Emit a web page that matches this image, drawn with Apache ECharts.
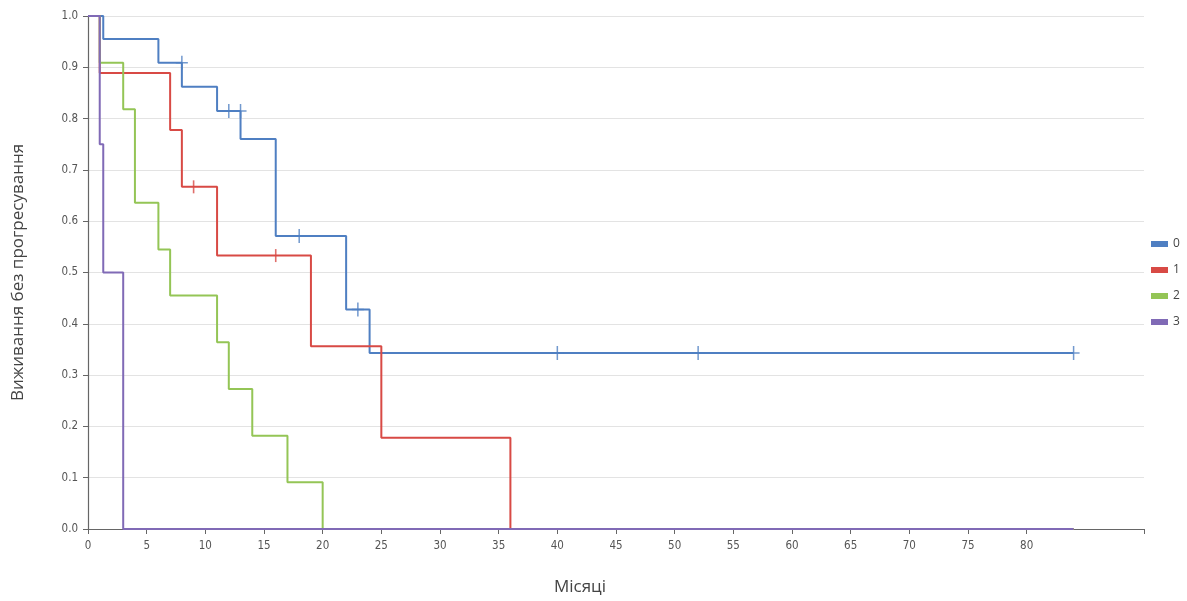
<!DOCTYPE html>
<html>
<head>
<meta charset="utf-8">
<script src="https://cdn.jsdelivr.net/npm/echarts@6/dist/echarts.min.js"></script>
<style>html,body{margin:0;padding:0;background:#fff;}#c{width:1187px;height:601px;}</style>
</head>
<body>
<div id="c"></div>
<script>
// Group names
const groups = ['0', '1', '2', '3'];
// Kaplan-Meier step points (time in months, survival)
const times0 = [0, 1.3, 6, 8, 11, 13, 16, 22, 24, 84];
const surv0  = [1, 0.955, 0.909, 0.862, 0.815, 0.760, 0.571, 0.428, 0.343, 0.343];
const times1 = [0, 1, 7, 8, 11, 19, 25, 36, 84];
const surv1  = [1, 0.889, 0.778, 0.667, 0.533, 0.356, 0.178, 0, 0];
const times2 = [0, 1, 3, 4, 6, 7, 11, 12, 14, 17, 20, 84];
const surv2  = [1, 0.909, 0.818, 0.636, 0.545, 0.455, 0.364, 0.273, 0.182, 0.091, 0, 0];
const times3 = [0, 1, 1.3, 3, 84];
const surv3  = [1, 0.75, 0.5, 0, 0];
// Censored observations
const cens0T = [8, 12, 13, 18, 23, 40, 52, 84];
const cens0S = [0.909, 0.815, 0.815, 0.571, 0.428, 0.343, 0.343, 0.343];
const cens1T = [9, 16];
const cens1S = [0.667, 0.533];
// Axis ticks
const yTicks = [0, 0.1, 0.2, 0.3, 0.4, 0.5, 0.6, 0.7, 0.8, 0.9, 1.0];
const xLabels = [0, 5, 10, 15, 20, 25, 30, 35, 40, 45, 50, 55, 60, 65, 70, 75, 80];
const xTickVals = xLabels.concat([90]);

const colors = ['#4f7fc2', '#d84a45', '#94c556', '#806ab6'];
const zip = (a, b) => a.map((v, i) => [v, b[i]]);
const plus = 'path://M5.25,0H6.75V6.25H12V7.75H6.75V14H5.25V7.75H0V6.25H5.25Z';

const lineData = [zip(times0, surv0), zip(times1, surv1), zip(times2, surv2), zip(times3, surv3)];
const series = lineData.map((d, i) => ({
  name: groups[i], type: 'line', step: 'end', data: d, showSymbol: false,
  lineStyle: { width: 2, color: colors[i] }, itemStyle: { color: colors[i] }, z: 2 + i
}));
series.push({ name: '0', type: 'scatter', data: zip(cens0T, cens0S), symbol: plus, symbolSize: [12, 14],
  itemStyle: { color: colors[0] }, z: 10 });
series.push({ name: '1', type: 'scatter', data: zip(cens1T, cens1S), symbol: 'rect', symbolSize: [1.6, 13],
  itemStyle: { color: colors[1] }, z: 10 });

const chart = echarts.init(document.getElementById('c'), null, { renderer: 'canvas' });
chart.setOption({
  animation: false,
  color: colors,
  grid: { left: 88, right: 43, top: 16, bottom: 68 },
  legend: {
    data: groups.map(g => ({ name: g, icon: 'rect' })),
    orient: 'vertical', left: 1146, top: 233,
    itemWidth: 17, itemHeight: 6, itemGap: 14,
    textStyle: { fontFamily: 'Open Sans', fontSize: 12, color: '#444' }
  },
  xAxis: {
    type: 'value', min: 0, max: 90, interval: 5,
    name: 'Місяці', nameLocation: 'middle', nameGap: 50,
    nameTextStyle: { fontFamily: 'Open Sans', fontSize: 17, color: '#444', padding: [0, 72, 0, 0] },
    axisLine: { show: true, lineStyle: { color: '#666', width: 1.2 } },
    axisTick: { show: true, length: 5, lineStyle: { color: '#666' }, customValues: xTickVals },
    axisLabel: { customValues: xLabels, fontFamily: 'DejaVu Sans Condensed', fontSize: 11.5, color: '#555', margin: 11 },
    splitLine: { show: false }
  },
  yAxis: {
    type: 'value', min: 0, max: 1, interval: 0.1,
    name: 'Виживання без прогресування', nameLocation: 'middle', nameGap: 61,
    nameTextStyle: { fontFamily: 'Open Sans', fontSize: 17, color: '#444' },
    axisLine: { show: true, lineStyle: { color: '#666', width: 1.2 } },
    axisTick: { show: true, length: 5, lineStyle: { color: '#666' } },
    axisLabel: { formatter: v => v.toFixed(1), fontFamily: 'DejaVu Sans Condensed', fontSize: 11.5, color: '#555', margin: 10 },
    splitLine: { show: true, lineStyle: { color: '#e3e3e3', width: 1.2 } }
  },
  series: series
});
</script>
</body>
</html>
